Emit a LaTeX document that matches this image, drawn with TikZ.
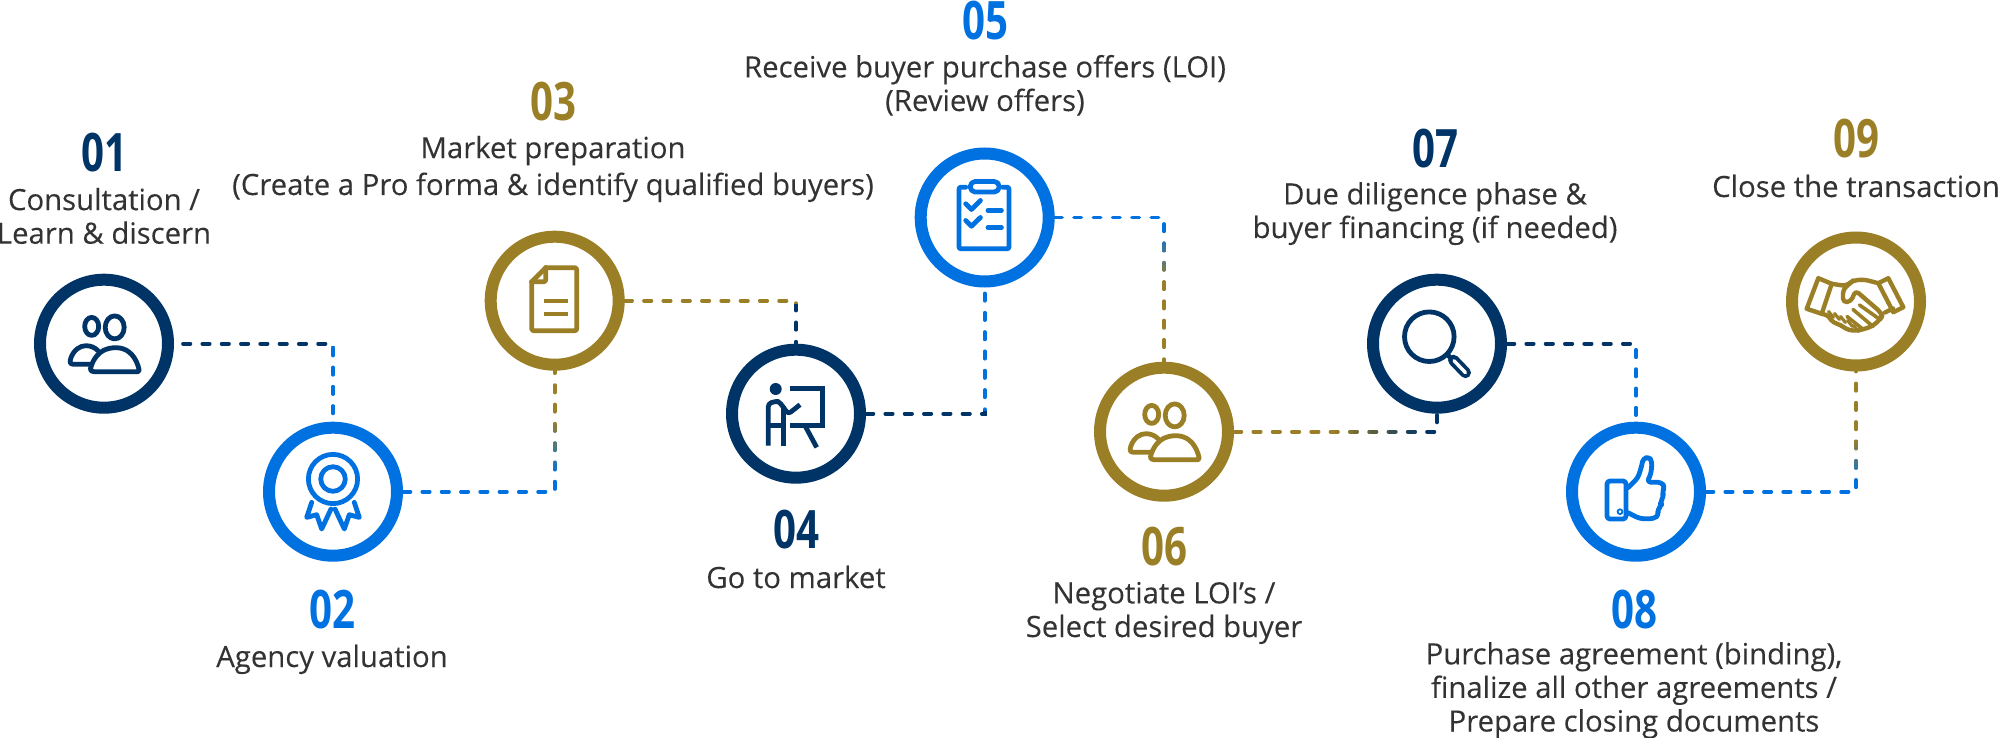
\documentclass[tikz,border=0pt]{standalone}
\usepackage{fontspec}
\setmainfont[FakeBold=0.12]{Open Sans}
\newfontfamily\numfont[FakeStretch=0.76]{Open Sans}
\definecolor{navy}{HTML}{003466}
\definecolor{azure}{HTML}{0071E0}
\definecolor{gold}{HTML}{9B7F26}
\definecolor{ink}{HTML}{333333}
\tikzset{
  ring/.style={circle,draw=#1,line width=12pt,fill=white,minimum size=128pt,inner sep=0pt},
  conn/.style={line width=3.7pt,dash pattern=on 7.4pt off 11.9pt,line cap=round},
  ico/.style={line width=4.8pt,line join=round,line cap=round,draw=#1},
  numlab/.style={text=#1,anchor=base,inner sep=0pt,font=\numfont\bfseries\fontsize{53}{53}\selectfont},
  lab/.style={text=ink,anchor=base,inner sep=0pt,align=center,font=\fontsize{29.3}{#1}\selectfont},
}
\newcommand\gconnv[6][]{%
  \begin{scope}\clip (0,0) rectangle (2000,#4);\draw[conn,draw=#2,#1] #6;\end{scope}
  \foreach \i in {0,...,9}{%
    \pgfmathsetmacro\ya{#4+(#5-#4)*\i/10}\pgfmathsetmacro\yb{#4+(#5-#4)*(\i+1)/10}\pgfmathsetmacro\p{int(95-10*\i)}
    \begin{scope}\clip (0,\ya) rectangle (2000,\yb);\draw[conn,draw=#2!\p!#3,#1] #6;\end{scope}}
  \begin{scope}\clip (0,#5) rectangle (2000,738);\draw[conn,draw=#3,#1] #6;\end{scope}}
\newcommand\gconnh[6][]{%
  \begin{scope}\clip (0,0) rectangle (#4,738);\draw[conn,draw=#2,#1] #6;\end{scope}
  \foreach \i in {0,...,9}{%
    \pgfmathsetmacro\ya{#4+(#5-#4)*\i/10}\pgfmathsetmacro\yb{#4+(#5-#4)*(\i+1)/10}\pgfmathsetmacro\p{int(95-10*\i)}
    \begin{scope}\clip (\ya,0) rectangle (\yb,738);\draw[conn,draw=#2!\p!#3,#1] #6;\end{scope}}
  \begin{scope}\clip (#5,0) rectangle (2000,738);\draw[conn,draw=#3,#1] #6;\end{scope}}
\newcommand\peopleicon[2]{%
  \begin{scope}[shift={(#1)}]
    \draw[ico=#2] (-12.3,-17.3) ellipse (7 and 9);
    \draw[ico=#2] (10.7,-16.3) ellipse (9.5 and 11.5);
    \draw[ico=#2] (-10,28) .. controls (-16,28) and (-13,23) .. (-11,18) .. controls (-6,8) and (2,4) .. (12,4) .. controls (22,4) and (30,10) .. (34,22) .. controls (36,28) and (35,28) .. (32,28) -- cycle;
    \draw[ico=#2] (-14,20.5) -- (-31,20.5) .. controls (-35,20.5) and (-34,17) .. (-33,14) .. controls (-30,6) and (-24,2) .. (-18,2) .. controls (-13,2) and (-9,4) .. (-6,7);
  \end{scope}}
\begin{document}
\begin{tikzpicture}[x=1pt,y=-1pt]
\useasboundingbox (0,0) rectangle (2000,738);
\node[ring=navy] (c1) at (104,343.7) {};
\node[ring=azure] (c2) at (333,491.7) {};
\node[ring=gold] (c3) at (554.7,300.7) {};
\node[ring=navy] (c4) at (796,413.7) {};
\node[ring=azure] (c5) at (984.7,217.5) {};
\node[ring=gold] (c6) at (1164,431.7) {};
\node[ring=navy] (c7) at (1437,343.7) {};
\node[ring=azure] (c8) at (1636,491.7) {};
\node[ring=gold] (c9) at (1856,301.5) {};

\gconnv[dash phase=10.3pt]{navy}{azure}{346}{346.5}{(c1.east) -| (c2.north)}
\gconnv{gold}{azure}{420}{475}{(c2.east) -| (c3.south)}
\gconnv{gold}{navy}{304}{304.5}{(c3.east) -| (c4.north)}
\gconnv{azure}{navy}{411}{411.5}{(c4.east) -| (c5.south)}
\gconnv{azure}{gold}{232}{282}{(c5.east) -| (c6.north)}
\gconnh{gold}{navy}{1335}{1425}{(c6.east) -| (c7.south)}
\gconnv{navy}{azure}{346}{346.5}{(c7.east) -| (c8.north)}
\gconnv{gold}{azure}{440}{480}{(c8.east) -| (c9.south)}

\peopleicon{c1.center}{navy}
\peopleicon{c6.center}{gold}
\begin{scope}[shift={(c2.center)}]
  \draw[ico=azure] (0,-12.7) circle (24.6);
  \draw[ico=azure] (0,-12.7) circle (12.3);
  \draw[ico=azure] (-21.3,10.7) -- (-26.3,25.7) -- (-16.3,23) -- (-11.3,37.3) -- (-2,17.3);
  \draw[ico=azure] (21.3,10.7) -- (26.3,25.7) -- (16.3,23) -- (11.3,37.3) -- (2,17.3);
\end{scope}
\begin{scope}[shift={(c3.center)}]
  \draw[ico=gold,rounded corners=2pt] (-9,-33) -- (22,-33) -- (22,30) -- (-23,30) -- (-23,-19);
  \draw[ico=gold] (-23,-19) -- (-9,-33);
  \draw[ico=gold,rounded corners=2pt] (-23,-19) -- (-9,-19) -- (-9,-33);
  \draw[ico=gold,line width=3.6pt,line cap=butt] (-11,0) -- (13.3,0) (-11,13.3) -- (13.3,13.3);
\end{scope}
\begin{scope}[shift={(c4.center)}]
  \fill[navy] (-20.3,-24.7) circle (6);
  \draw[ico=navy,line cap=butt,miter limit=10,line join=miter] (-6,-25.3) -- (26.3,-25.3) -- (26.3,12) -- (-6,12);
  \draw[ico=navy,line cap=butt] (9,12) -- (20.7,33.7);
  \draw[ico=navy,line cap=butt,rounded corners=3pt] (-27.7,32) -- (-27.7,-10) -- (-21,-12.3) -- (-17,-12.3) -- (-7.7,0.3) -- (4,-9);
  \draw[ico=navy,line cap=butt] (-12.7,32) -- (-12.7,-8);
  \draw[ico=navy,line cap=butt] (-27.7,12) -- (-12.7,12);
\end{scope}
\begin{scope}[shift={(c5.center)}]
  \draw[ico=azure,rounded corners=2pt] (-19,-30.3) -- (-25.7,-30.3) -- (-25.7,31.3) -- (24.3,31.3) -- (24.3,-30.3) -- (18,-30.3);
  \draw[ico=azure,rounded corners=5pt] (-14.5,-25.5) -- (-14.5,-36) -- (14.5,-36) -- (14.5,-25.5) -- cycle;
  \draw[ico=azure] (-19,-13.7) -- (-13.3,-8) -- (-4.3,-17);
  \draw[ico=azure] (-19,3) -- (-13.3,8.7) -- (-4.3,0);
  \draw[ico=azure] (3.3,-7) -- (16.7,-7) (3.3,10) -- (16.7,10);
\end{scope}
\begin{scope}[shift={(c7.center)}]
  \draw[ico=navy] (-7.7,-7) circle (24.8);
  \draw[navy,line width=11pt,line cap=round] (16.5,16.5) -- (28.5,29);
  \draw[white,line width=3.4pt,line cap=round] (17,17) -- (28.5,29);
  \draw[ico=navy,line cap=butt] (10,10.5) -- (15,15.5);
\end{scope}
\begin{scope}[shift={(c8.center)}]
  \draw[ico=azure,rounded corners=3pt] (-29,-10.7) rectangle (-10,27.3);
  \draw[azure,line width=1.8pt] (-16,20) circle (2.4);
  \draw[ico=azure,rounded corners=3.5pt] (-8,-4) -- (2,-14) -- (6,-27) -- (7,-33) -- (13,-35) -- (16,-30) -- (15,-18) -- (11,-9.5) -- (25,-9.5) -- (29,-5) -- (26,0) -- (28,5) -- (24,10) -- (26,14) -- (21,18) -- (23,23) -- (18,27) -- (4,27) -- (-8,21);
\end{scope}
\begin{scope}[shift={(c9.center)}]
  \draw[ico=gold,line width=4.4pt] (-37.7,-23.3) -- (-49.3,7.3) -- (-34.3,12.3) -- (-24.3,-17.7) -- cycle;
  \draw[ico=gold,line width=4.4pt] (32.3,-23.3) -- (47.3,5.7) -- (37.3,10.7) -- (22.3,-18.3) -- cycle;
  \draw[ico=gold,line width=4.4pt,rounded corners=4pt] (-24.3,-17.7) -- (-10,-15.5) -- (-3,-21) -- (8,-22) -- (22.3,-18.3);
  \draw[ico=gold,line width=4.4pt,rounded corners=4pt] (-3,-21) -- (-13,-12) -- (-13,1) -- (-5,0) -- (-0.5,-11) -- (25,11) -- (26,15) -- (24,18) -- (16,25) -- (3,29) -- (-7,29) -- (-15,24);
  \draw[ico=gold,line width=4.4pt] (37,7) -- (29,11);
  \draw[ico=gold,line width=3.6pt] (3.5,3.5) -- (24,18) (-3,8) -- (17,25) (-9,15) -- (6,27);
  \draw[ico=gold,line width=4.4pt,rounded corners=2pt] (-34.3,12.3) -- (-28,14) -- (-24,20) -- (-15,24);
  \foreach \p in {(-25,11),(-19,13),(-13,16),(-6,20),(0,25)}
    \draw[ico=gold,line width=3.2pt] \p ++(-2.5,-1) -- ++(5,6);
\end{scope}

\node[numlab=navy] (n1) at (104,172) {01};
\node[lab=33.6] (t1) at (104,243.7) {Consultation /\\Learn \& discern};
\node[numlab=azure] (n2) at (332,628) {02};
\node[lab=33.6] (t2) at (332,667) {Agency valuation};
\node[numlab=gold] (n3) at (553.5,121) {03};
\node[lab=36.8] (t3) at (553,195) {Market preparation\\(Create a Pro forma \& identify qualified buyers)};
\node[numlab=navy] (n4) at (796,548.5) {04};
\node[lab=33.6] (t4) at (796,588) {Go to market};
\node[numlab=azure] (n5) at (985,40) {05};
\node[lab=33.6] (t5) at (985,111) {Receive buyer purchase offers (LOI)\\(Review offers)};
\node[numlab=gold] (n6) at (1164,565) {06};
\node[lab=33.6] (t6) at (1164,637) {Negotiate LOI’s /\\Select desired buyer};
\node[numlab=navy] (n7) at (1435,168) {07};
\node[lab=33.6] (t7) at (1435,238) {Due diligence phase \&\\buyer financing (if needed)};
\node[numlab=azure] (n8) at (1634,628) {08};
\node[lab=33.6] (t8) at (1634,731.5) {Purchase agreement (binding),\\finalize all other agreements /\\Prepare closing documents};
\node[numlab=gold] (n9) at (1856,158) {09};
\node[lab=33.6] (t9) at (1856,197) {Close the transaction};
\end{tikzpicture}
\end{document}
